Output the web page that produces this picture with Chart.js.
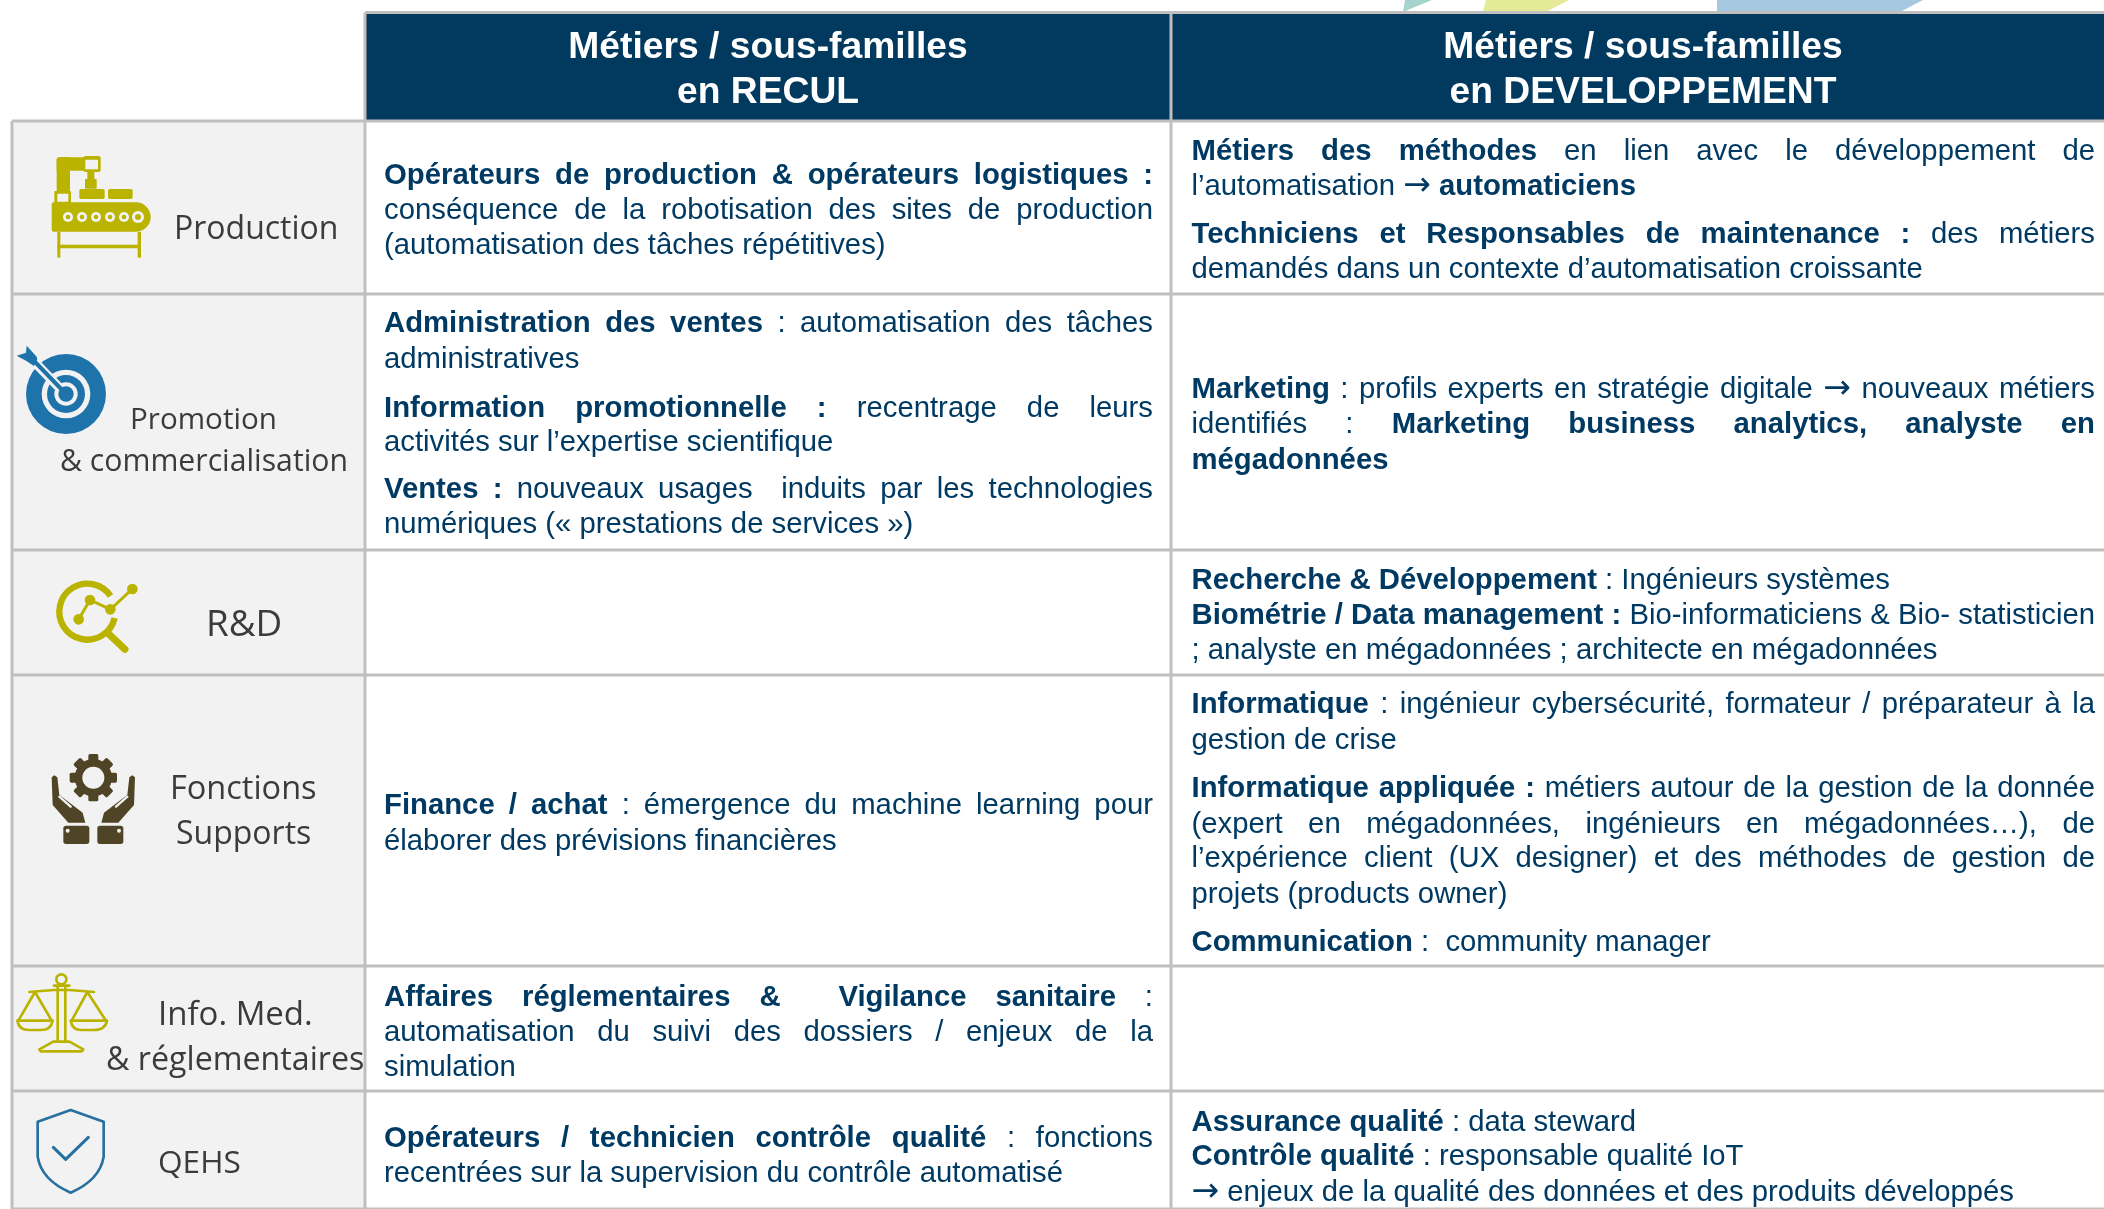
<!DOCTYPE html>
<html lang="fr">
<head>
<meta charset="utf-8">
<title>Métiers en recul / en développement</title>
<script src="https://cdn.jsdelivr.net/npm/chart.js@4"></script>
<style>
  html, body { margin: 0; padding: 0; background: #fff; overflow: hidden; }
  canvas { display: block; }
</style>
</head>
<body>
<canvas id="myChart" width="2104" height="1209"></canvas>
<script>
// table frame, in page units
const columnEdges = [12, 365, 1171, 2104];
const rowEdges = [12.5, 121, 294, 550, 675, 966, 1091, 1209];

const headerLines = [
  ['Métiers / sous-familles', 'en RECUL'],
  ['Métiers / sous-familles', 'en DEVELOPPEMENT']
];
const headerBaselines = [58, 103];

const rowLabels = [
  'Production', 'Promotion', '& commercialisation', 'R&D', 'Fonctions', 'Supports',
  'Info. Med.', '& réglementaires', 'QEHS'
];
const rowLabelLeft = [174, 130, 60, 206, 170, 176, 158, 106, 158];
const rowLabelBaselines = [239, 429, 471, 636, 799, 844, 1025, 1070, 1173];
const rowLabelSizes = [32, 29.6, 30.2, 36.8, 32.5, 32, 33, 32.2, 31.6];

// [text, justified], **...** marks the bold runs
const reculLines = [
  ['**Opérateurs de production & opérateurs logistiques :**', true],
  ['conséquence de la robotisation des sites de production', true],
  ['(automatisation des tâches répétitives)', false],
  ['**Administration des ventes** : automatisation des tâches', true],
  ['administratives', false],
  ['**Information promotionnelle :** recentrage de leurs', true],
  ['activités sur l’expertise scientifique', false],
  ['**Ventes :** nouveaux usages  induits par les technologies', true],
  ['numériques (« prestations de services »)', false],
  ['**Finance / achat** : émergence du machine learning pour', true],
  ['élaborer des prévisions financières', false],
  ['**Affaires réglementaires &  Vigilance sanitaire** :', true],
  ['automatisation du suivi des dossiers / enjeux de la', true],
  ['simulation', false],
  ['**Opérateurs / technicien contrôle qualité** : fonctions', true],
  ['recentrées sur la supervision du contrôle automatisé', false]
];
const reculBaselines = [184, 219, 254, 332, 368, 417, 451, 498, 533, 814, 850, 1006, 1041, 1076, 1147, 1182];

const developpementLines = [
  ['**Métiers des méthodes** en lien avec le développement de', true],
  ['l’automatisation → **automaticiens**', false],
  ['**Techniciens et Responsables de maintenance :** des métiers', true],
  ['demandés dans un contexte d’automatisation croissante', false],
  ['**Marketing** : profils experts en stratégie digitale → nouveaux métiers', true],
  ['identifiés : **Marketing business analytics, analyste en**', true],
  ['**mégadonnées**', false],
  ['**Recherche & Développement** : Ingénieurs systèmes', false],
  ['**Biométrie / Data management :** Bio-informaticiens & Bio- statisticien', true],
  ['; analyste en mégadonnées ; architecte en mégadonnées', false],
  ['**Informatique** : ingénieur cybersécurité, formateur / préparateur à la', true],
  ['gestion de crise', false],
  ['**Informatique appliquée :** métiers autour de la gestion de la donnée', true],
  ['(expert en mégadonnées, ingénieurs en mégadonnées…), de', true],
  ['l’expérience client (UX designer) et des méthodes de gestion de', true],
  ['projets (products owner)', false],
  ['**Communication** :  community manager', false],
  ['**Assurance qualité** : data steward', false],
  ['**Contrôle qualité** : responsable qualité IoT', false],
  ['→ enjeux de la qualité des données et des produits développés', false]
];
const developpementBaselines = [160, 195, 243, 278, 398, 433, 469, 589, 624, 659, 713, 749, 797, 833, 867, 903, 951, 1131, 1165, 1201];

const NAVY = '#003a63';
const HEADER_BG = '#02395f';
const GRID = '#bfbfbf';
const LABEL_BG = '#f2f2f2';
const OLIVE = '#bab300';
const BLUE = '#1f73ab';
const BROWN = '#4f4526';
const BODY_SIZE = 29.3;

function rectPoints(x0, x1, y0, y1) {
  return [{ x: x0, y: y0 }, { x: x1, y: y0 }, { x: x1, y: y1 }, { x: x0, y: y1 }, { x: x0, y: y0 }];
}

function lineSet(points) {
  return { type: 'scatter', data: points, showLine: true, borderColor: GRID, borderWidth: 3, pointRadius: 0, clip: false };
}

function fillSet(points, color) {
  return { type: 'scatter', data: points, showLine: true, borderWidth: 0, borderColor: color, backgroundColor: color, fill: 'shape', pointRadius: 0 };
}

const [left, col1, col2, right] = columnEdges;
const frameSets = [];
rowEdges.slice(1).forEach(y => frameSets.push(lineSet([{ x: left, y }, { x: right, y }])));
frameSets.push(lineSet([{ x: col1, y: rowEdges[0] }, { x: right, y: rowEdges[0] }]));
frameSets.push(lineSet([{ x: left, y: rowEdges[1] }, { x: left, y: 1209 }]));
frameSets.push(lineSet([{ x: col1, y: rowEdges[0] }, { x: col1, y: 1209 }]));
frameSets.push(lineSet([{ x: col2, y: rowEdges[0] }, { x: col2, y: 1209 }]));

const datasets = frameSets.concat([
  fillSet(rectPoints(col1, right, rowEdges[0], rowEdges[1]), HEADER_BG),
  fillSet(rectPoints(left, col1, rowEdges[1], 1209), LABEL_BG),
  // bits of a banner cut off at the top of the page
  fillSet([{ x: 1405, y: 0 }, { x: 1432, y: 0 }, { x: 1403, y: 12 }, { x: 1405, y: 0 }], '#a6d3cd'),
  fillSet([{ x: 1486, y: 0 }, { x: 1569, y: 0 }, { x: 1546, y: 12 }, { x: 1483, y: 12 }, { x: 1486, y: 0 }], '#e4ea97'),
  fillSet([{ x: 1717, y: 0 }, { x: 1923, y: 0 }, { x: 1900, y: 12 }, { x: 1717, y: 12 }, { x: 1717, y: 0 }], '#a6c8e1')
]);

// splits "**bold** plain" into words; a double space leaves an empty word, so a wider gap
function lineWords(text) {
  const words = [];
  text.split('**').forEach((run, i) => {
    const trimmed = run.trim();
    if (!trimmed) return;
    trimmed.split(' ').forEach(w => words.push({ text: w, bold: i % 2 === 1 }));
  });
  return words;
}

function wordFont(w) {
  if (w.text === '→') return '33px "DejaVu Sans"';
  return `${w.bold ? 'bold ' : ''}${BODY_SIZE}px "Liberation Sans"`;
}

function drawBodyLine(ctx, line, x0, x1, y) {
  const words = lineWords(line[0]);
  let total = 0;
  words.forEach(w => {
    ctx.font = wordFont(w);
    w.width = ctx.measureText(w.text).width;
    total += w.width;
  });
  ctx.font = `${BODY_SIZE}px "Liberation Sans"`;
  let gap = ctx.measureText(' ').width;
  if (line[1] && words.length > 1) gap = (x1 - x0 - total) / (words.length - 1);
  let x = x0;
  words.forEach(w => {
    ctx.font = wordFont(w);
    if (w.text) ctx.fillText(w.text, x, y);
    x += w.width + gap;
  });
}

// icons are drawn in the coordinates of a 3x crop of the page, with an origin
function inCrop(ctx, ox, oy, draw) {
  ctx.save();
  ctx.translate(ox, oy);
  ctx.scale(1 / 3, 1 / 3);
  ctx.lineCap = 'round';
  ctx.lineJoin = 'round';
  draw();
  ctx.restore();
}

function poly(ctx, pts, close) {
  ctx.beginPath();
  pts.forEach((p, i) => (i ? ctx.lineTo(p[0], p[1]) : ctx.moveTo(p[0], p[1])));
  if (close) ctx.closePath();
}

function disc(ctx, x, y, r, color) {
  ctx.fillStyle = color;
  ctx.beginPath();
  ctx.arc(x, y, r, 0, Math.PI * 2);
  ctx.fill();
}

function box(ctx, x0, y0, x1, y1, r, color) {
  ctx.fillStyle = color;
  ctx.beginPath();
  ctx.roundRect(x0, y0, x1 - x0, y1 - y0, r);
  ctx.fill();
}

function drawProductionIcon(ctx) {
  inCrop(ctx, 0, 110, () => {
    box(ctx, 170, 142, 210, 248, [8, 0, 0, 0], OLIVE);
    box(ctx, 170, 142, 262, 182, [8, 0, 0, 0], OLIVE);
    box(ctx, 250, 138, 302, 186, 6, OLIVE);
    box(ctx, 256, 149, 294, 178, 1, LABEL_BG);
    box(ctx, 262, 186, 283, 212, 0, OLIVE);
    box(ctx, 255, 207, 290, 236, 2, OLIVE);
    box(ctx, 238, 237, 314, 267, 5, OLIVE);
    box(ctx, 324, 237, 398, 267, 6, OLIVE);
    box(ctx, 163, 243, 213, 282, 3, OLIVE);
    box(ctx, 172, 251, 205, 275, 1, LABEL_BG);
    box(ctx, 155, 277, 452, 365, [6, 44, 44, 6], OLIVE);
    [204, 246, 288, 330, 372, 414].forEach((x, i) => {
      disc(ctx, x, 321, i === 5 ? 18 : 15, LABEL_BG);
      disc(ctx, x, 321, i === 5 ? 9 : 7, OLIVE);
    });
    box(ctx, 172, 365, 181, 443, 2, OLIVE);
    box(ctx, 413, 365, 423, 443, 2, OLIVE);
    box(ctx, 172, 404, 423, 415, 0, OLIVE);
  });
}

function drawTargetIcon(ctx) {
  inCrop(ctx, 0, 290, () => {
    disc(ctx, 198, 312, 120, BLUE);
    disc(ctx, 198, 312, 73, LABEL_BG);
    disc(ctx, 198, 312, 57, BLUE);
    disc(ctx, 198, 312, 35, LABEL_BG);
    disc(ctx, 198, 312, 23, BLUE);
    ctx.strokeStyle = LABEL_BG;
    ctx.lineWidth = 28;
    ctx.lineCap = 'butt';
    poly(ctx, [[100, 212], [175, 290]]);
    ctx.stroke();
    ctx.strokeStyle = BLUE;
    ctx.lineWidth = 12;
    poly(ctx, [[85, 195], [198, 312]]);
    ctx.stroke();
    ctx.fillStyle = BLUE;
    poly(ctx, [[50, 197], [78, 188], [80, 167], [110, 200], [112, 208], [102, 228], [78, 212]], true);
    ctx.fill();
  });
}

function drawRndIcon(ctx) {
  inCrop(ctx, 0, 290, () => {
    ctx.strokeStyle = OLIVE;
    ctx.lineWidth = 19;
    ctx.lineCap = 'butt';
    ctx.beginPath();
    ctx.arc(262, 965, 84, 13 * Math.PI / 180, (360 - 34) * Math.PI / 180);
    ctx.stroke();
    ctx.lineCap = 'round';
    ctx.lineWidth = 21;
    poly(ctx, [[322, 1028], [375, 1078]]);
    ctx.stroke();
    ctx.lineWidth = 9;
    poly(ctx, [[236, 988], [270, 930], [331, 958], [397, 897]]);
    ctx.stroke();
    [[236, 988], [270, 930], [331, 958], [397, 897]].forEach(p => disc(ctx, p[0], p[1], 16, OLIVE));
  });
}

function drawSupportIcon(ctx) {
  inCrop(ctx, 0, 690, () => {
    ctx.fillStyle = BROWN;
    for (let i = 0; i < 8; i++) {
      ctx.save();
      ctx.translate(280, 263);
      ctx.rotate(i * Math.PI / 4);
      ctx.beginPath();
      ctx.roundRect(-15, -71, 30, 30, 5);
      ctx.fill();
      ctx.restore();
    }
    disc(ctx, 280, 263, 56, BROWN);
    disc(ctx, 280, 263, 33, LABEL_BG);
    [x => x, x => 560 - x].forEach(mx => {
      ctx.fillStyle = BROWN;
      poly(ctx, [[155, 262], [163, 256], [172, 262], [178, 315], [205, 335], [248, 368], [256, 398], [205, 398], [158, 345]].map(p => [mx(p[0]), p[1]]), true);
      ctx.fill();
      ctx.strokeStyle = LABEL_BG;
      ctx.lineWidth = 7;
      poly(ctx, [[178, 320], [212, 350]].map(p => [mx(p[0]), p[1]]));
      ctx.stroke();
      box(ctx, Math.min(mx(190), mx(268)), 407, Math.max(mx(190), mx(268)), 462, 8, BROWN);
      disc(ctx, mx(203), 422, 6, LABEL_BG);
    });
  });
}

function drawScalesIcon(ctx) {
  inCrop(ctx, 0, 690, () => {
    ctx.strokeStyle = OLIVE;
    ctx.lineWidth = 8;
    ctx.beginPath();
    ctx.arc(184, 868, 15, 0, Math.PI * 2);
    ctx.stroke();
    poly(ctx, [[173, 890], [173, 1052]]);
    ctx.stroke();
    poly(ctx, [[196, 890], [196, 1052]]);
    ctx.stroke();
    poly(ctx, [[162, 887], [208, 887]]);
    ctx.stroke();
    poly(ctx, [[88, 906], [160, 900], [208, 900], [282, 906]]);
    ctx.stroke();
    [[105, 55, 155], [262, 215, 318]].forEach(s => {
      poly(ctx, [[s[1], 992], [s[0], 906], [s[2], 992]]);
      ctx.stroke();
      ctx.beginPath();
      ctx.moveTo(s[1] - 3, 992);
      ctx.lineTo(s[2] + 3, 992);
      ctx.quadraticCurveTo(s[2] - 2, 1020, s[0] + 18, 1020);
      ctx.lineTo(s[0] - 18, 1020);
      ctx.quadraticCurveTo(s[1] + 2, 1020, s[1] - 3, 992);
      ctx.stroke();
    });
    poly(ctx, [[160, 1055], [208, 1055], [250, 1078], [245, 1084], [122, 1084], [118, 1078]], true);
    ctx.stroke();
  });
}

function drawShieldIcon(ctx) {
  inCrop(ctx, 0, 690, () => {
    ctx.strokeStyle = '#28709f';
    ctx.lineWidth = 8;
    ctx.beginPath();
    ctx.moveTo(212, 1260);
    ctx.lineTo(311, 1295);
    ctx.lineTo(311, 1400);
    ctx.quadraticCurveTo(300, 1470, 212, 1508);
    ctx.quadraticCurveTo(124, 1470, 113, 1400);
    ctx.lineTo(113, 1295);
    ctx.closePath();
    ctx.stroke();
    ctx.lineWidth = 9;
    poly(ctx, [[160, 1372], [197, 1408], [265, 1342]]);
    ctx.stroke();
  });
}

const tableText = {
  id: 'tableText',
  afterDatasetsDraw(chart) {
    const ctx = chart.ctx;
    const xs = chart.scales.x;
    const ys = chart.scales.y;
    ctx.save();
    ctx.textBaseline = 'alphabetic';

    ctx.fillStyle = '#ffffff';
    ctx.textAlign = 'center';
    ctx.font = 'bold 37.25px "Liberation Sans"';
    const headerCentres = [768, 1643];
    headerLines.forEach((lines, c) => {
      lines.forEach((t, i) => ctx.fillText(t, xs.getPixelForValue(headerCentres[c]), ys.getPixelForValue(headerBaselines[i])));
    });

    ctx.textAlign = 'left';
    ctx.fillStyle = '#3b3b3b';
    rowLabels.forEach((t, i) => {
      ctx.font = `${rowLabelSizes[i]}px "Open Sans"`;
      ctx.fillText(t, xs.getPixelForValue(rowLabelLeft[i]), ys.getPixelForValue(rowLabelBaselines[i]));
    });

    ctx.fillStyle = NAVY;
    reculLines.forEach((line, i) => drawBodyLine(ctx, line, 384, 1153, ys.getPixelForValue(reculBaselines[i])));
    developpementLines.forEach((line, i) => drawBodyLine(ctx, line, 1191.5, 2095, ys.getPixelForValue(developpementBaselines[i])));

    drawProductionIcon(ctx);
    drawTargetIcon(ctx);
    drawRndIcon(ctx);
    drawSupportIcon(ctx);
    drawScalesIcon(ctx);
    drawShieldIcon(ctx);
    ctx.restore();
  }
};

const myChart = new Chart(document.getElementById('myChart').getContext('2d'), {
  type: 'scatter',
  data: { datasets },
  options: {
    responsive: false,
    animation: false,
    layout: { padding: 0 },
    plugins: { legend: { display: false }, tooltip: { enabled: false } },
    scales: {
      x: { type: 'linear', min: 0, max: 2104, display: false },
      y: { type: 'linear', min: 0, max: 1209, reverse: true, display: false }
    }
  },
  plugins: [tableText]
});
</script>
</body>
</html>
